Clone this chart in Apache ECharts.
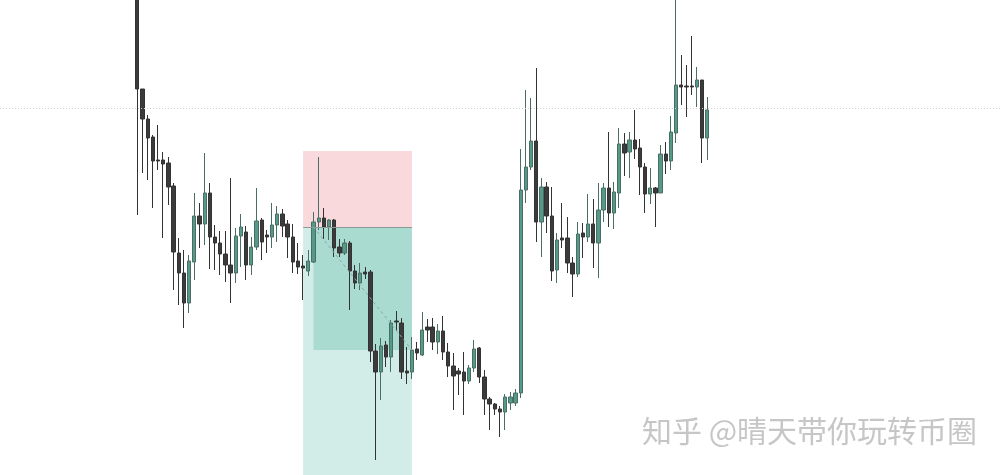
<!DOCTYPE html>
<html><head><meta charset="utf-8">
<script src="https://cdn.jsdelivr.net/npm/echarts@6/dist/echarts.min.js"></script>
<style>html,body{margin:0;padding:0;background:#fff}#c{width:1000px;height:475px}</style>
</head><body><div id="c"></div>
<script>
// candle prices (arbitrary price units)
const openP = [505,386,356,338,315,315,312,289,222,202,
  172,213,259,251,282,238,232,221,210,202,
  239,243,210,228,255,240,238,250,261,251,
  238,214,209,204,213,253,257,248,255,228,
  222,232,204,192,203,203,124,103,130,118,
  154,152,104,103,126,120,148,148,133,144,
  123,109,104,103,94,107,127,98,76,71,
  66,63,72,72,82,285,308,334,253,288,
  259,205,237,237,212,201,242,238,251,232,
  265,287,262,282,331,323,335,327,308,281,
  287,282,321,314,342,390,389,389,388,395,337];
const closeP = [386,356,337,314,314,311,288,223,202,172,
  214,259,251,282,238,232,221,210,202,239,
  248,210,228,254,233,238,250,261,249,238,
  213,208,207,214,253,257,248,255,227,222,
  232,204,192,202,201,124,103,129,118,152,
  153,103,102,125,122,145,145,133,144,123,
  109,99,101,94,107,126,98,76,71,66,
  63,78,78,82,285,308,334,253,288,259,
  204,235,235,212,201,241,238,251,232,265,
  287,262,283,331,322,335,326,308,281,287,
  282,321,314,343,390,388,388,388,395,337,365];
const lowP = [260,302,295,267,305,237,270,185,170,147,
  162,195,227,230,206,205,200,193,172,192,
  208,195,200,225,215,222,227,233,238,217,
  202,201,175,199,212,245,236,235,218,218,
  220,165,186,185,196,113,15,75,108,103,
  144,96,91,96,115,119,133,125,121,115,
  98,65,80,60,91,103,92,60,45,60,
  38,45,65,69,77,272,305,233,218,242,
  194,192,227,202,178,198,217,233,207,197,
  253,248,246,267,299,297,316,280,262,271,
  248,282,301,305,332,370,358,380,368,312,315];
const highP = [515,386,360,340,350,323,318,292,237,225,
  220,282,272,322,292,250,244,244,297,247,
  261,249,238,287,257,245,272,269,266,255,
  251,232,220,225,263,318,267,256,256,236,
  236,234,210,212,208,205,131,137,134,155,
  164,157,128,138,133,163,156,157,151,159,
  132,122,107,123,110,135,128,105,78,72,
  69,81,83,86,326,385,377,407,297,293,
  288,242,272,258,218,253,252,281,276,292,
  292,343,293,347,342,343,365,336,312,307,
  288,330,333,359,480,420,410,439,408,395,378];

// empty bars before/after the candles
const padBefore = 26;
const padAfter = 56;

// horizontal price line
const priceLine = 367;
// position tool (long/short box)
const posStartCandle = 32;
const posInnerStartCandle = 34;
const posEndCandle = 53;
const stopPrice = 324;
const entryPrice = 248;
const targetPrice = 0;
const exitPrice = 125;

const watermark = '知乎 @晴天带你玩转币圈';

const total = padBefore + openP.length + padAfter;
const categories = [];
for (let k = 0; k < total; k++) categories.push(String(k));
const kData = [];
const empty = [];
for (let k = 0; k < total; k++) {
  const i = k - padBefore;
  if (i >= 0 && i < openP.length) kData.push([openP[i], closeP[i], lowP[i], highP[i]]);
  else kData.push('-');
  empty.push('-');
}
const c = (i) => categories[padBefore + i];

const chart = echarts.init(document.getElementById('c'), null, {renderer: 'canvas'});
chart.setOption({
  animation: false,
  backgroundColor: '#ffffff',
  grid: {left: -2, top: 0, width: total * 5.21, bottom: 0, containLabel: false},
  xAxis: {type: 'category', data: categories, boundaryGap: true, show: false},
  yAxis: {type: 'value', min: 0, max: 475, show: false, splitLine: {show: false}},
  graphic: [{
    type: 'text', left: 642, top: 416, z: 100,
    style: {text: watermark, fill: '#c6c6c6', font: '30px "Noto Sans CJK SC", sans-serif',
      textShadowColor: 'rgba(0,0,0,0.28)', textShadowOffsetX: 1, textShadowOffsetY: 1, textShadowBlur: 0}
  }],
  series: [
    {
      type: 'line', data: empty, z: 1, silent: true, symbol: 'none',
      markArea: {
        silent: true,
        data: [
          [{xAxis: c(posStartCandle), yAxis: entryPrice, itemStyle: {color: '#d2ede7'}}, {xAxis: c(posEndCandle), yAxis: targetPrice}],
          [{xAxis: c(posInnerStartCandle), yAxis: entryPrice, itemStyle: {color: '#a9dbd1'}}, {xAxis: c(posEndCandle), yAxis: exitPrice}],
          [{xAxis: c(posStartCandle), yAxis: stopPrice, itemStyle: {color: '#fad9dd'}}, {xAxis: c(posEndCandle), yAxis: entryPrice}]
        ]
      },
      markLine: {
        silent: true, symbol: ['none', 'none'], label: {show: false},
        data: [
          {yAxis: priceLine, lineStyle: {color: '#cfcfcf', type: [1, 2], width: 1}},
          [{coord: [c(posStartCandle), entryPrice], lineStyle: {color: '#8b9a97', type: 'solid', width: 1}}, {coord: [c(posEndCandle), entryPrice]}],
          [{coord: [c(posInnerStartCandle), entryPrice], lineStyle: {color: '#8aa8a2', type: [3, 3], width: 1}}, {coord: [c(posEndCandle), exitPrice]}]
        ]
      }
    },
    {
      type: 'candlestick', data: kData, z: 3, barWidth: 3.8,
      itemStyle: {color: '#559a88', color0: '#3b3b3b', borderColor: '#4a6e64', borderColor0: '#333333', borderWidth: 1}
    }
  ]
});
</script></body></html>
